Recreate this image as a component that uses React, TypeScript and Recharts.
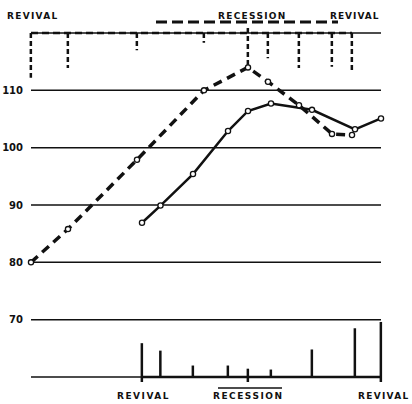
import {
  ComposedChart, Line, Bar, XAxis, YAxis,
  CartesianGrid, ReferenceLine,
} from "recharts";

// stage positions (months from the initial trough) and cycle relatives
const dashedMonth = [0, 3.7, 10.6, 17.3, 21.7, 23.7, 26.8, 30.1, 32.1];
const dashedIndex = [80.0, 85.8, 97.9, 110.0, 114.0, 111.5, 107.4, 102.4, 102.2];
const dashedStageMark = [7.8, 6.1, 3.0, 1.7, 5.9, 4.4, 6.1, 5.9, 6.8];

const solidMonth = [11.1, 12.95, 16.2, 19.7, 21.7, 24.0, 28.1, 32.4, 35.0];
const solidIndex = [86.9, 89.9, 95.4, 102.9, 106.4, 107.7, 106.6, 103.2, 105.1];
const solidStageMark = [5.9, 4.6, 2.0, 2.0, 1.45, 1.3, 4.8, 8.5, 9.6];

const yTicks = [70, 80, 90, 100, 110];
const turningStages = [0, 4, 8];

const topRecession = [12.5, 30.7];
const bottomRecession = [18.7, 25.1];

const INK = "#111";

const months = [...new Set([...dashedMonth, ...solidMonth])].sort((a, b) => a - b);
const rows = months.map((m) => {
  const di = dashedMonth.indexOf(m);
  const si = solidMonth.indexOf(m);
  return {
    month: m,
    dashed: di >= 0 ? dashedIndex[di] : null,
    dashedMark: di >= 0 ? dashedStageMark[di] : null,
    dashedStage: di,
    solid: si >= 0 ? solidIndex[si] : null,
    solidMark: si >= 0 ? solidStageMark[si] : null,
    solidStage: si,
  };
});

const TopTick = (p: any) => {
  const { x, y, width, height, payload } = p;
  if (payload?.dashedMark == null) return <g />;
  const cx = x + width / 2;
  const top = Math.min(y, y + height);
  const bottom = Math.max(y, y + height);
  const ext = payload.dashedStage === 4 ? 5 : 0;
  return (
    <line x1={cx} x2={cx} y1={top - ext} y2={bottom}
      stroke={INK} strokeWidth={2.5} strokeDasharray="5 3" />
  );
};

const BottomTick = (p: any) => {
  const { x, y, width, height, payload } = p;
  if (payload?.solidMark == null) return <g />;
  const cx = x + width / 2;
  const top = Math.min(y, y + height);
  const bottom = Math.max(y, y + height);
  const ext = turningStages.includes(payload.solidStage) ? 5 : 0;
  return (
    <line x1={cx} x2={cx} y1={top} y2={bottom + ext}
      stroke={INK} strokeWidth={2.5} />
  );
};

const OpenDot = (p: any) => {
  const { cx, cy, value, key, index } = p;
  if (value == null || cy == null) return <g key={key ?? index} />;
  return (
    <circle key={key ?? index} cx={cx} cy={cy} r={2.6}
      fill="#fff" stroke={INK} strokeWidth={1.3} />
  );
};

const labelStyle: React.CSSProperties = {
  position: "absolute",
  fontFamily: "DejaVu Sans",
  fontWeight: 700,
  fontSize: 9,
  lineHeight: "9px",
  letterSpacing: 1.3,
  color: INK,
  whiteSpace: "nowrap",
};

export default function App() {
  return (
    <div style={{ position: "fixed", left: 0, top: 0, width: 412, height: 404, background: "#fff" }}>
      <ComposedChart
        width={412}
        height={404}
        data={rows}
        margin={{ top: 33, right: 31, bottom: 27, left: 0 }}
      >
        <CartesianGrid horizontal vertical={false} stroke={INK} strokeWidth={1.5} />
        <XAxis dataKey="month" type="number" domain={[0, 35]} hide />
        <XAxis xAxisId="top" dataKey="month" type="number" domain={[0, 35]} hide />
        <XAxis xAxisId="bottom" dataKey="month" type="number" domain={[0, 35]} hide />
        <YAxis
          domain={[60, 120]}
          ticks={yTicks}
          width={31}
          tickLine={false}
          axisLine={false}
          tickSize={0}
          tickMargin={8}
          tick={{ fill: INK, fontSize: 10, fontWeight: 700, fontFamily: "DejaVu Sans" }}
        />
        <YAxis yAxisId="top" domain={[0, 60]} reversed hide />
        <YAxis yAxisId="bottom" domain={[0, 60]} hide />

        <ReferenceLine
          segment={[{ x: dashedMonth[0], y: 120 }, { x: dashedMonth[8], y: 120 }]}
          stroke={INK} strokeWidth={2.5} strokeDasharray="7 4" ifOverflow="visible"
        />
        <ReferenceLine
          segment={[{ x: topRecession[0], y: 121.9 }, { x: topRecession[1], y: 121.9 }]}
          stroke={INK} strokeWidth={3} strokeDasharray="11 5" ifOverflow="visible"
        />
        <ReferenceLine
          segment={[{ x: solidMonth[0], y: 60 }, { x: solidMonth[8], y: 60 }]}
          stroke={INK} strokeWidth={2.5} ifOverflow="visible"
        />
        <ReferenceLine
          segment={[{ x: bottomRecession[0], y: 58.1 }, { x: bottomRecession[1], y: 58.1 }]}
          stroke={INK} strokeWidth={1.5} ifOverflow="visible"
        />

        <Bar xAxisId="top" yAxisId="top" dataKey="dashedMark" barSize={3}
          shape={TopTick} isAnimationActive={false} />
        <Bar xAxisId="bottom" yAxisId="bottom" dataKey="solidMark" barSize={3}
          shape={BottomTick} isAnimationActive={false} />

        <Line dataKey="dashed" type="linear" stroke={INK} strokeWidth={3.5}
          strokeDasharray="9 6" connectNulls dot={OpenDot} activeDot={false}
          isAnimationActive={false} />
        <Line dataKey="solid" type="linear" stroke={INK} strokeWidth={2.5}
          connectNulls dot={OpenDot} activeDot={false}
          isAnimationActive={false} />
      </ComposedChart>

      <div style={{ ...labelStyle, left: 7, top: 12 }}>REVIVAL</div>
      <div style={{ ...labelStyle, left: 218, top: 12 }}>RECESSION</div>
      <div style={{ ...labelStyle, left: 330, top: 12, letterSpacing: 1 }}>REVIVAL</div>
      <div style={{ ...labelStyle, left: 117, top: 392, letterSpacing: 1.5 }}>REVIVAL</div>
      <div style={{ ...labelStyle, left: 213, top: 392, letterSpacing: 1.5 }}>RECESSION</div>
      <div style={{ ...labelStyle, left: 358, top: 392, letterSpacing: 1.3 }}>REVIVAL</div>
    </div>
  );
}
